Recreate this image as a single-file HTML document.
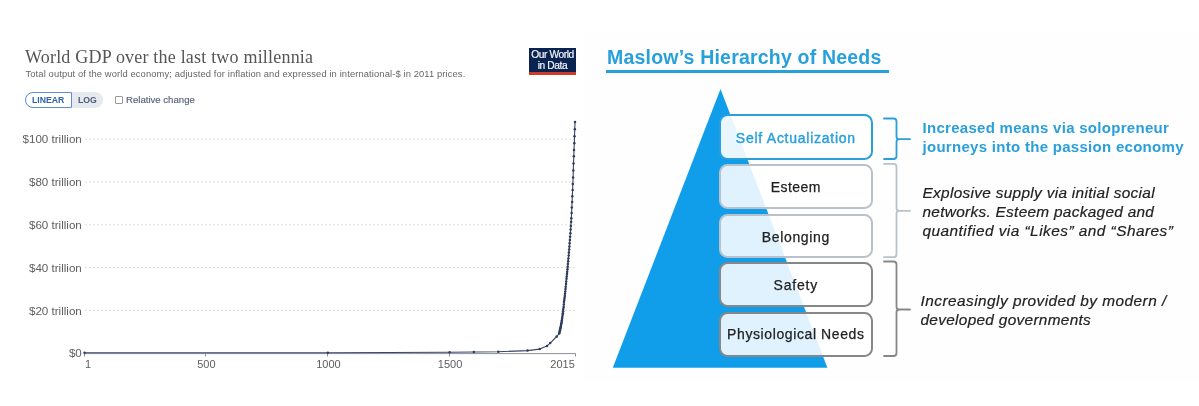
<!DOCTYPE html>
<html><head><meta charset="utf-8"><title>World GDP and Maslow</title>
<style>
html,body{margin:0;padding:0;background:#fff;}
body{width:1199px;height:406px;position:relative;overflow:hidden;font-family:"Liberation Sans",sans-serif;}
.t{position:absolute;white-space:nowrap;line-height:1;}
#right{position:absolute;left:585px;top:31px;width:614px;height:351px;background:#fefefe;}
#title{left:25px;top:47.5px;font-family:"Liberation Serif",serif;font-size:18px;letter-spacing:0.2px;color:#555;}
#sub{left:25.5px;top:69px;font-size:9.4px;letter-spacing:0.11px;color:#666;}
#pill{position:absolute;left:25px;top:92px;width:78px;height:15.5px;border-radius:8px;background:#e6e9ee;}
#lin{position:absolute;left:25px;top:92px;width:45px;height:13.5px;border:1px solid #5f8fd2;border-radius:8px 0 0 8px;background:#fff;}
#lintx{left:32px;top:96px;font-size:8.7px;font-weight:bold;color:#2f5fae;}
#logtx{left:78px;top:96px;font-size:8.7px;font-weight:bold;color:#4a5c7a;}
#cb{position:absolute;left:115px;top:96.2px;width:5.5px;height:5.5px;border:1px solid #999;border-radius:1px;background:#fff;}
#rel{left:126px;top:94.5px;font-size:9.6px;color:#566379;-webkit-text-stroke:0.15px #566379;}
#logo{position:absolute;left:529px;top:47.5px;width:47px;height:27px;background:#0a2350;color:#f4f6fa;text-align:center;font-size:10.2px;line-height:10.4px;letter-spacing:-0.4px;-webkit-text-stroke:0.2px #f4f6fa;}#logo i{position:absolute;left:0;bottom:0;width:47px;height:2.8px;background:#d03a26;}
#logo span{display:block;padding-top:2.6px}
.yl{font-size:11.6px;color:#5e5e5e;margin-top:-0.8px;text-align:right;width:80px;left:1.8px;}
.xl{font-size:11px;color:#5e5e5e;}
#mtitle{left:607px;top:47.8px;letter-spacing:0.2px;font-size:19.5px;font-weight:bold;color:#27a0dc;}
#mline{position:absolute;left:606px;top:69.5px;width:283px;height:3px;background:#27a0dc;}
.box{position:absolute;left:718.7px;width:154.3px;border-radius:8.5px;box-sizing:border-box;background:rgba(255,255,255,0.87);text-align:center;font-size:14px;color:#222;-webkit-text-stroke:0.25px currentColor;}
.r1{font-size:15px;font-weight:bold;color:#2a9fd9;left:922.5px;letter-spacing:0.29px;}
.r2{font-size:15.4px;font-style:italic;color:#222;left:922.5px;-webkit-text-stroke:0.2px #222;}
</style></head><body>
<div id="right"></div>
<div class="t" id="mtitle">Maslow’s Hierarchy of Needs</div><div id="mline"></div>
<div class="t" id="title">World GDP over the last two millennia</div>
<div class="t" id="sub">Total output of the world economy; adjusted for inflation and expressed in international-$ in 2011 prices.</div>
<div id="pill"></div><div id="lin"></div>
<div class="t" id="lintx">LINEAR</div><div class="t" id="logtx">LOG</div>
<div id="cb"></div><div class="t" id="rel">Relative change</div>
<div id="logo"><span>Our World<br>in Data</span><i></i></div>
<div class="t yl" id="y100" style="top:134.2px">$100 trillion</div>
<div class="t yl" id="y80" style="top:177.0px">$80 trillion</div>
<div class="t yl" id="y60" style="top:219.8px">$60 trillion</div>
<div class="t yl" id="y40" style="top:262.6px">$40 trillion</div>
<div class="t yl" id="y20" style="top:305.4px">$20 trillion</div>
<div class="t yl" id="y0" style="top:348.2px">$0</div>
<div class="t xl" id="x1" style="left:85px;top:359.4px">1</div>
<div class="t xl" id="x500" style="left:197.2px;top:359.4px">500</div>
<div class="t xl" id="x1000" style="left:316.2px;top:359.4px">1000</div>
<div class="t xl" id="x1500" style="left:437.8px;top:359.4px">1500</div>
<div class="t xl" id="x2015" style="left:550.3px;top:359.4px">2015</div>
<svg id="svg" width="1199" height="406" viewBox="0 0 1199 406" style="position:absolute;left:0;top:0">
<g stroke="#ddd" stroke-width="1" stroke-dasharray="2,2" fill="none"><line x1="85" x2="575" y1="139.2" y2="139.2"/><line x1="85" x2="575" y1="182.0" y2="182.0"/><line x1="85" x2="575" y1="224.8" y2="224.8"/><line x1="85" x2="575" y1="267.6" y2="267.6"/><line x1="85" x2="575" y1="310.4" y2="310.4"/></g>
<g stroke="#8a8f99" stroke-width="1" fill="none"><line x1="84.5" x2="575.5" y1="353.6" y2="353.6"/>
<path d="M84.5 353.5v3M205.5 353.5v3M327.5 353.5v3M449.5 353.5v3M575.5 353.5v3"/></g>
<polyline points="84.5,352.8 327.8,352.8 449.6,352.3 473.9,352.0 498.3,351.8 527.5,350.6 539.7,349.1 547.0,345.9 550.2,343.1 556.7,336.5 559.2,333.4 559.4,332.5 559.7,331.5 559.9,330.5 560.1,329.4 560.4,328.3 560.6,327.2 560.9,326.0 561.1,324.7 561.4,323.3 561.6,322.0 561.8,320.4 562.1,318.7 562.3,317.0 562.6,315.1 562.8,313.2 563.1,311.2 563.3,309.1 563.6,306.9 563.8,304.5 564.0,302.1 564.3,300.1 564.5,298.1 564.8,296.0 565.0,293.8 565.3,291.5 565.5,289.1 565.7,286.7 566.0,284.1 566.2,281.5 566.5,278.7 566.7,276.5 567.0,274.1 567.2,271.7 567.5,269.2 567.7,266.7 567.9,264.0 568.2,261.3 568.4,258.5 568.7,255.6 568.9,252.6 569.2,249.6 569.4,246.5 569.6,243.3 569.9,240.0 570.1,236.7 570.4,233.2 570.6,229.6 570.9,225.9 571.1,222.1 571.3,218.2 571.6,213.0 571.8,207.6 572.1,202.0 572.3,196.2 572.6,190.1 572.8,183.9 573.1,177.4 573.3,170.6 573.5,163.6 573.8,156.3 574.0,149.9 574.3,143.2 574.5,136.3 574.8,129.2 575.0,121.9" fill="none" stroke="#3a4664" stroke-width="1.1" stroke-linejoin="round"/>
<g fill="#2f3b5c"><circle cx="84.5" cy="352.8" r="1.25"/><circle cx="327.8" cy="352.8" r="1.25"/><circle cx="449.6" cy="352.3" r="1.25"/><circle cx="473.9" cy="352.0" r="1.25"/><circle cx="498.3" cy="351.8" r="1.25"/><circle cx="527.5" cy="350.6" r="1.25"/><circle cx="539.7" cy="349.1" r="1.25"/><circle cx="547.0" cy="345.9" r="1.25"/><circle cx="550.2" cy="343.1" r="1.25"/><circle cx="556.7" cy="336.5" r="1.25"/><circle cx="559.2" cy="333.4" r="1.25"/><circle cx="559.4" cy="332.5" r="1.25"/><circle cx="559.7" cy="331.5" r="1.25"/><circle cx="559.9" cy="330.5" r="1.25"/><circle cx="560.1" cy="329.4" r="1.25"/><circle cx="560.4" cy="328.3" r="1.25"/><circle cx="560.6" cy="327.2" r="1.25"/><circle cx="560.9" cy="326.0" r="1.25"/><circle cx="561.1" cy="324.7" r="1.25"/><circle cx="561.4" cy="323.3" r="1.25"/><circle cx="561.6" cy="322.0" r="1.25"/><circle cx="561.8" cy="320.4" r="1.25"/><circle cx="562.1" cy="318.7" r="1.25"/><circle cx="562.3" cy="317.0" r="1.25"/><circle cx="562.6" cy="315.1" r="1.25"/><circle cx="562.8" cy="313.2" r="1.25"/><circle cx="563.1" cy="311.2" r="1.25"/><circle cx="563.3" cy="309.1" r="1.25"/><circle cx="563.6" cy="306.9" r="1.25"/><circle cx="563.8" cy="304.5" r="1.25"/><circle cx="564.0" cy="302.1" r="1.25"/><circle cx="564.3" cy="300.1" r="1.25"/><circle cx="564.5" cy="298.1" r="1.25"/><circle cx="564.8" cy="296.0" r="1.25"/><circle cx="565.0" cy="293.8" r="1.25"/><circle cx="565.3" cy="291.5" r="1.25"/><circle cx="565.5" cy="289.1" r="1.25"/><circle cx="565.7" cy="286.7" r="1.25"/><circle cx="566.0" cy="284.1" r="1.25"/><circle cx="566.2" cy="281.5" r="1.25"/><circle cx="566.5" cy="278.7" r="1.25"/><circle cx="566.7" cy="276.5" r="1.25"/><circle cx="567.0" cy="274.1" r="1.25"/><circle cx="567.2" cy="271.7" r="1.25"/><circle cx="567.5" cy="269.2" r="1.25"/><circle cx="567.7" cy="266.7" r="1.25"/><circle cx="567.9" cy="264.0" r="1.25"/><circle cx="568.2" cy="261.3" r="1.25"/><circle cx="568.4" cy="258.5" r="1.25"/><circle cx="568.7" cy="255.6" r="1.25"/><circle cx="568.9" cy="252.6" r="1.25"/><circle cx="569.2" cy="249.6" r="1.25"/><circle cx="569.4" cy="246.5" r="1.25"/><circle cx="569.6" cy="243.3" r="1.25"/><circle cx="569.9" cy="240.0" r="1.25"/><circle cx="570.1" cy="236.7" r="1.25"/><circle cx="570.4" cy="233.2" r="1.25"/><circle cx="570.6" cy="229.6" r="1.25"/><circle cx="570.9" cy="225.9" r="1.25"/><circle cx="571.1" cy="222.1" r="1.25"/><circle cx="571.3" cy="218.2" r="1.25"/><circle cx="571.6" cy="213.0" r="1.25"/><circle cx="571.8" cy="207.6" r="1.25"/><circle cx="572.1" cy="202.0" r="1.25"/><circle cx="572.3" cy="196.2" r="1.25"/><circle cx="572.6" cy="190.1" r="1.25"/><circle cx="572.8" cy="183.9" r="1.25"/><circle cx="573.1" cy="177.4" r="1.25"/><circle cx="573.3" cy="170.6" r="1.25"/><circle cx="573.5" cy="163.6" r="1.25"/><circle cx="573.8" cy="156.3" r="1.25"/><circle cx="574.0" cy="149.9" r="1.25"/><circle cx="574.3" cy="143.2" r="1.25"/><circle cx="574.5" cy="136.3" r="1.25"/><circle cx="574.8" cy="129.2" r="1.25"/><circle cx="575.0" cy="121.9" r="1.25"/></g>
<!-- pyramid -->
<polygon points="720.5,89 827.4,367.8 612.8,367.8" fill="#109eea"/>
</svg>
<div class="box" id="b1" style="background:rgba(255,255,255,0.91);top:114.4px;height:45.8px;border:2px solid #2a9fdb;padding-top:2.6px;line-height:39.2px;letter-spacing:0.74px;color:#2a9fdb;-webkit-text-stroke-width:0.4px">Self Actualization</div>
<div class="box" id="b2" style="top:163.8px;height:45.0px;border:2px solid #b9c1ca;padding-top:2.0px;line-height:39.0px;letter-spacing:0.47px">Esteem</div>
<div class="box" id="b3" style="top:213.6px;height:44.5px;border:2px solid #b9c1ca;padding-top:2.0px;line-height:38.5px;letter-spacing:0.66px">Belonging</div>
<div class="box" id="b4" style="top:262.2px;height:44.8px;border:2px solid #878787;padding-top:3.2px;line-height:37.6px;letter-spacing:0.8px">Safety</div>
<div class="box" id="b5" style="top:311.7px;height:45.1px;border:2px solid #878787;padding-top:1.2px;line-height:39.9px;letter-spacing:0.6px">Physiological Needs</div>
<svg width="1199" height="406" viewBox="0 0 1199 406" style="position:absolute;left:0;top:0" fill="none" stroke-width="1.8" stroke-linecap="round" stroke-linejoin="round">
<path d="M884 118.5h9.5q3 0 3 3V136.7q0 2.5 3 2.5h10.5h-10.5q-3 0-3 2.5V156q0 3-3 3h-9.5" stroke="#2a9fdb"/>
<path d="M884 163.9h9.5q3 0 3 3V208.3q0 2.5 3 2.5h10.5h-10.5q-3 0-3 2.5V254.2q0 3-3 3h-9.5" stroke="#b9c1ca"/>
<path d="M884 261.5h9.5q3 0 3 3V307.0q0 2.5 3 2.5h10.5h-10.5q-3 0-3 2.5V353q0 3-3 3h-9.5" stroke="#878787"/>
</svg>
<div class="t r1" id="r1a" style="top:119.7px">Increased means via solopreneur</div>
<div class="t r1" id="r1b" style="top:139.2px">journeys into the passion economy</div>
<div class="t r2" id="r2a" style="top:184.8px;letter-spacing:0.31px">Explosive supply via initial social</div>
<div class="t r2" id="r2b" style="top:204.2px;letter-spacing:0.29px">networks. Esteem packaged and</div>
<div class="t r2" id="r2c" style="top:223.4px;letter-spacing:0.47px">quantified via “Likes” and “Shares”</div>
<div class="t r2" id="r3a" style="top:293px;left:920.5px;letter-spacing:0.46px">Increasingly provided by modern /</div>
<div class="t r2" id="r3b" style="top:312.3px;left:920.5px;letter-spacing:0.3px">developed governments</div>
</body></html>
